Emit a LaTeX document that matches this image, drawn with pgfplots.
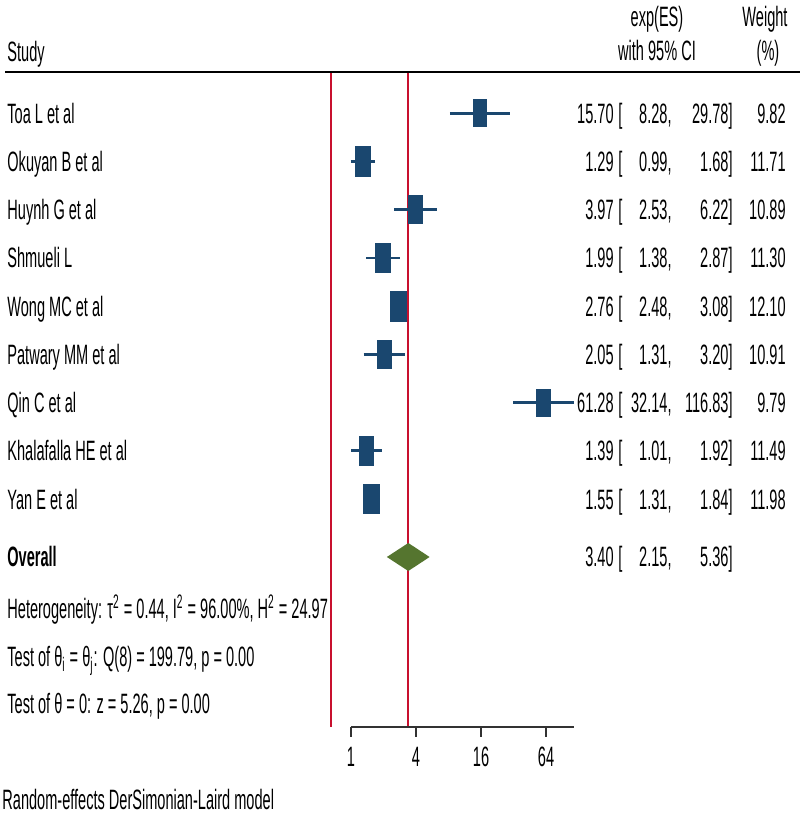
\documentclass[border=0pt]{standalone}
\usepackage{fontspec}
\setmainfont{Liberation Sans}[FakeStretch=0.52]
\usepackage{pgfplots}
\usepackage{pgfplotstable}
\pgfplotsset{compat=1.18}
\definecolor{snavy}{RGB}{26,71,111}
\definecolor{sgreen}{RGB}{85,117,47}
\definecolor{sred}{RGB}{200,16,46}
\definecolor{saxis}{RGB}{50,50,50}
\pgfdeclareplotmark{fbox}{%
  \pgfpathrectangle{\pgfpoint{-\pgfplotmarksize}{-1.9\pgfplotmarksize}}{\pgfpoint{2\pgfplotmarksize}{3.8\pgfplotmarksize}}%
  \pgfusepathqfill}

% study estimates: effect size, CI, weight, vertical position
\pgfplotstableread{
es lo hi w y
15.70 8.28 29.78 9.82 701.7
1.29 0.99 1.68 11.71 653.5
3.97 2.53 6.22 10.89 605.3
1.99 1.38 2.87 11.30 557.0
2.76 2.48 3.08 12.10 508.8
2.05 1.31 3.20 10.91 460.6
61.28 32.14 116.83 9.79 412.4
1.39 1.01 1.92 11.49 364.2
1.55 1.31 1.84 11.98 315.9
}\studies

% confidence interval segments
\pgfplotstableread{
x y
8.28 701.7
29.78 701.7
nan nan
0.99 653.5
1.68 653.5
nan nan
2.53 605.3
6.22 605.3
nan nan
1.38 557.0
2.87 557.0
nan nan
2.48 508.8
3.08 508.8
nan nan
1.31 460.6
3.20 460.6
nan nan
32.14 412.4
116.83 412.4
nan nan
1.01 364.2
1.92 364.2
nan nan
1.31 315.9
1.84 315.9
}\cis

\newcommand\Row[6]{%
  \node[anchor=base west] at (7,#1+10) {#2};
  \node[anchor=base east] at (614,#1+10) {#3};
  \node[anchor=base west] at (618,#1+10) {[};
  \node[anchor=base east] at (672,#1+10) {#4,};
  \node[anchor=base east] at (733,#1+10) {#5]};
  \node[anchor=base east] at (786,#1+10) {#6};
}

\begin{document}
\begin{tikzpicture}[font=\fontsize{14pt}{16pt}\selectfont, every node/.style={inner sep=0pt}]
\begin{axis}[
  scale only axis, width=400pt, height=407.5pt,
  xmode=log, log basis x=2,
  xmin=0.000554, xmax=14632, ymin=0, ymax=815,
  axis line style={draw=none}, ticks=none, clip=false,
  unbounded coords=jump,
]
% reference lines
\addplot[sred, line width=0.9pt] coordinates {(0.652,742) (0.652,88)};
\addplot[sred, line width=0.9pt] coordinates {(3.40,742) (3.40,88)};
% CIs
\addplot[snavy, line width=1.3pt] table[x=x,y=y] {\cis};
% boxes
\addplot[scatter, only marks, mark=fbox,
  scatter/use mapped color={draw=snavy, fill=snavy},
  visualization depends on={1.17*sqrt(\thisrow{w}) \as \msz},
  scatter/@pre marker code/.append style={/tikz/mark size=\msz}]
  table[x=es,y=y] {\studies};
% overall diamond
\addplot[fill=sgreen, draw=none] coordinates {(2.15,258) (3.40,272) (5.36,258) (3.40,244)} -- cycle;
% x axis
\draw[saxis, line width=1.2pt] (axis cs:1,88) -- (axis cs:116.83,88);
\pgfplotsinvokeforeach{1,4,16,64}{
  \draw[saxis, line width=0.9pt] (axis cs:#1,88) -- (axis cs:#1,78);
}
\end{axis}
\begin{scope}[shift={(0pt,407.5pt)}, x=0.5pt, y=-0.5pt]
  % header
  \node[anchor=base west] at (7,62) {Study};
  \node[anchor=base] at (657,27) {exp(ES)};
  \node[anchor=base] at (657,61) {with 95\% CI};
  \node[anchor=base] at (765,27) {Weight};
  \node[anchor=base] at (768,61) {(\%)};
  \draw[black, line width=1pt] (5,72.5) -- (800,72.5);
  % rows
  \Row{113.3}{Toa L et al}{15.70}{8.28}{29.78}{9.82}
  \Row{161.5}{Okuyan B et al}{1.29}{0.99}{1.68}{11.71}
  \Row{209.7}{Huynh G et al}{3.97}{2.53}{6.22}{10.89}
  \Row{258.0}{Shmueli L}{1.99}{1.38}{2.87}{11.30}
  \Row{306.2}{Wong MC et al}{2.76}{2.48}{3.08}{12.10}
  \Row{354.4}{Patwary MM et al}{2.05}{1.31}{3.20}{10.91}
  \Row{402.6}{Qin C et al}{61.28}{32.14}{116.83}{9.79}
  \Row{450.8}{Khalafalla HE et al}{1.39}{1.01}{1.92}{11.49}
  \Row{499.1}{Yan E et al}{1.55}{1.31}{1.84}{11.98}
  % overall
  \node[anchor=base west] at (7,567) {\bfseries Overall};
  \node[anchor=base east] at (614,567) {3.40};
  \node[anchor=base west] at (618,567) {[};
  \node[anchor=base east] at (672,567) {2.15,};
  \node[anchor=base east] at (733,567) {5.36]};
  % stats
  \node[anchor=base west] at (7,619) {Heterogeneity: τ\textsuperscript{2} = 0.44, I\textsuperscript{2} = 96.00\%, H\textsuperscript{2} = 24.97};
  \node[anchor=base west] at (7,667) {Test of θ\textsubscript{i} = θ\textsubscript{j}: Q(8) = 199.79, p = 0.00};
  \node[anchor=base west] at (7,714) {Test of θ = 0: z = 5.26, p = 0.00};
  % tick labels
  \node[anchor=base] at (351,767) {1};
  \node[anchor=base] at (416,767) {4};
  \node[anchor=base] at (481,767) {16};
  \node[anchor=base] at (546,767) {64};
  % note
  \node[anchor=base west] at (2,810) {Random-effects DerSimonian-Laird model};
\end{scope}
\pgfresetboundingbox
\useasboundingbox (0,0) rectangle (400pt,407.5pt);
\end{tikzpicture}
\end{document}
